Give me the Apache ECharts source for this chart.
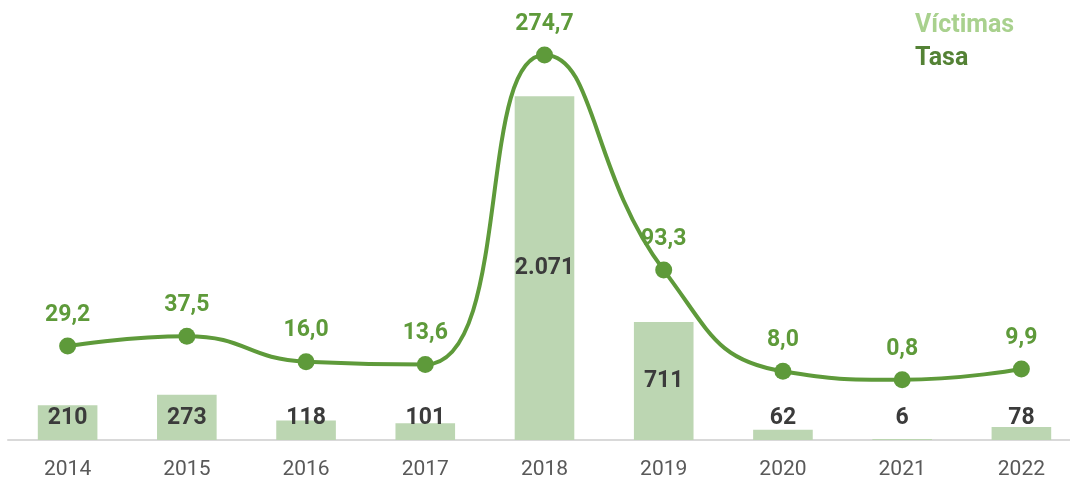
<!DOCTYPE html>
<html>
<head><meta charset="utf-8">
<title>Víctimas y tasa</title>
<script src="https://cdn.jsdelivr.net/npm/echarts@6/dist/echarts.min.js"></script>
<style>body{margin:0;background:#fff}</style>
</head>
<body>
<div id="main" style="width:1070px;height:482px;"></div>
<script>
var anios = ['2014','2015','2016','2017','2018','2019','2020','2021','2022'];
var victimas = [210, 273, 118, 101, 2071, 711, 62, 6, 78];
var tasa = [29.2, 37.5, 16.0, 13.6, 274.7, 93.3, 8.0, 0.8, 9.9];

var verdeBarra = '#bcd6b2';
var verdeLinea = '#5e9a3a';

function miles(v) {
    return String(v).replace(/\B(?=(\d{3})+(?!\d))/g, '.');
}

var myChart = echarts.init(document.getElementById('main'));

var option = {
    animation: false,
    textStyle: { fontFamily: 'Roboto' },
    legend: {
        orient: 'vertical',
        left: 905,
        top: 8,
        itemGap: 8,
        itemWidth: 0,
        itemHeight: 0,
        icon: 'none',
        data: [
            { name: 'Víctimas', textStyle: { color: '#a9d18e' } },
            { name: 'Tasa', textStyle: { color: '#548235' } }
        ],
        textStyle: { fontSize: 25, lineHeight: 25, fontWeight: 'bold', padding: 0 }
    },
    grid: { left: 8, width: 1073, top: 25, bottom: 42, outerBoundsMode: 'none', containLabel: false },
    xAxis: {
        type: 'category',
        data: anios,
        axisTick: { show: false },
        axisLine: { lineStyle: { color: '#d9d9d9', width: 2 } },
        axisLabel: { color: '#595959', fontSize: 21, margin: 19 }
    },
    yAxis: [
        { type: 'value', min: 0, max: 2500, show: false, splitLine: { show: false } },
        { type: 'value', min: -50, max: 300, show: false, splitLine: { show: false } }
    ],
    series: [
        {
            name: 'Víctimas',
            type: 'bar',
            barWidth: '50%',
            itemStyle: { color: verdeBarra },
            label: {
                show: true,
                position: 'insideBottom',
                distance: 10,
                color: '#3b3b3b',
                fontSize: 23,
                fontWeight: 'bold',
                formatter: function (p) { return miles(p.value); }
            },
            data: victimas.map(function (v) {
                return v > 500 ? { value: v, label: { position: 'inside' } } : v;
            })
        },
        {
            name: 'Tasa',
            type: 'line',
            yAxisIndex: 1,
            smooth: 0.5,
            symbol: 'circle',
            symbolSize: 17,
            lineStyle: { color: verdeLinea, width: 4 },
            itemStyle: { color: verdeLinea },
            label: {
                show: true,
                position: 'top',
                distance: 11,
                color: verdeLinea,
                fontSize: 23,
                fontWeight: 'bold',
                formatter: function (p) { return p.value.toFixed(1).replace('.', ','); }
            },
            z: 3,
            data: tasa
        }
    ]
};

myChart.setOption(option);
</script>
</body>
</html>
